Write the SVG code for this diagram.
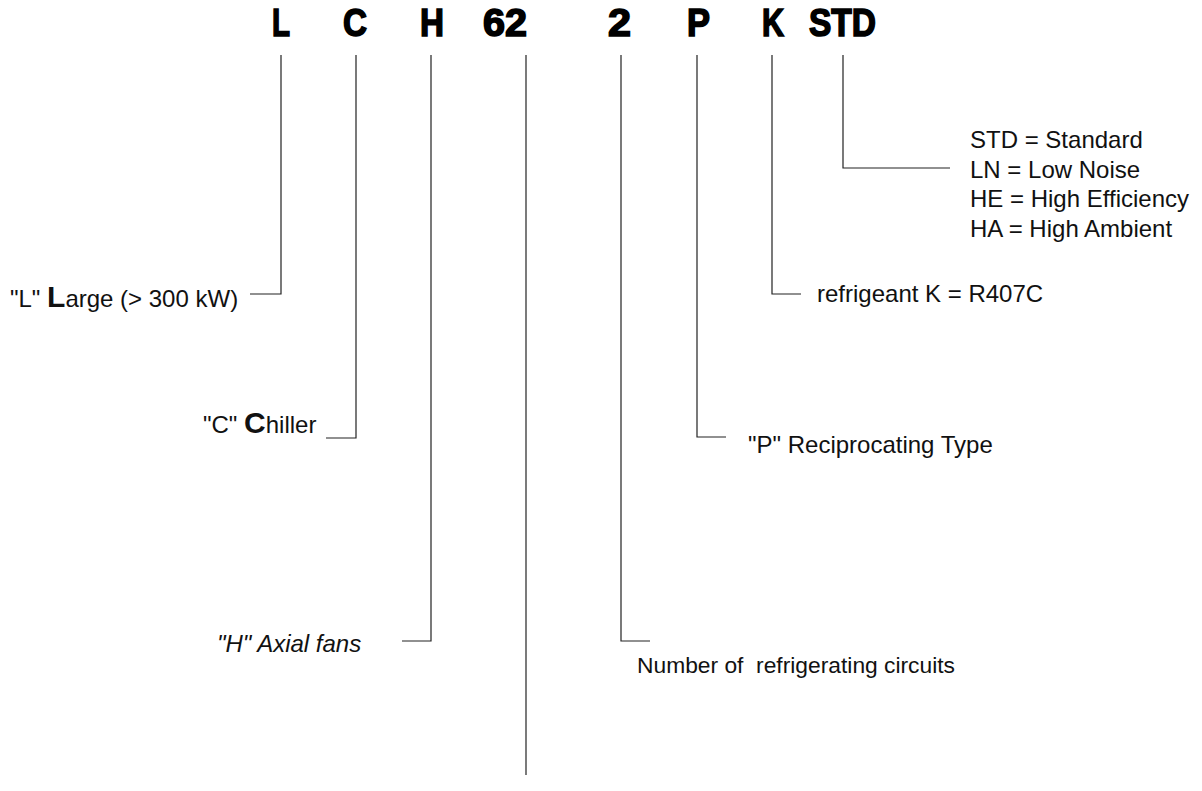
<svg xmlns="http://www.w3.org/2000/svg" width="1202" height="791" viewBox="0 0 1202 791">
<style>
.code{font-family:"Liberation Sans",Arial,sans-serif;font-weight:bold;font-size:38px;fill:#000;stroke:#000;stroke-width:1.6px}
.lbl{font-family:"Liberation Sans",Arial,sans-serif;font-size:24px;fill:#111}
.big{font-weight:bold;font-size:30px}
.it{font-style:italic}
.conn path{fill:none;stroke:#222;stroke-width:1.2}
</style>
<rect width="1202" height="791" fill="#fff"/>
<g id="code">
<text class="code" x="272" y="36" textLength="18" lengthAdjust="spacingAndGlyphs">L</text>
<text class="code" x="343" y="36" textLength="24" lengthAdjust="spacingAndGlyphs">C</text>
<text class="code" x="420" y="36" textLength="24" lengthAdjust="spacingAndGlyphs">H</text>
<text class="code" x="483" y="36" textLength="44" lengthAdjust="spacingAndGlyphs">62</text>
<text class="code" x="608" y="36" textLength="23" lengthAdjust="spacingAndGlyphs">2</text>
<text class="code" x="687" y="36" textLength="23" lengthAdjust="spacingAndGlyphs">P</text>
<text class="code" x="762" y="36" textLength="22" lengthAdjust="spacingAndGlyphs">K</text>
<text class="code" x="809" y="36" textLength="67" lengthAdjust="spacingAndGlyphs">STD</text>
</g>
<g class="conn" id="connectors">
<path d="M281 55V294H250"/>
<path d="M356 55V438H326"/>
<path d="M431 55V641H402"/>
<path d="M526 55V775"/>
<path d="M621 55V641H650"/>
<path d="M697 55V437H726"/>
<path d="M772 55V294H801"/>
<path d="M843 55V168H950"/>
</g>
<g id="node-L"><text class="lbl" x="10" y="307" xml:space="preserve">"L" <tspan class="big">L</tspan>arge (&gt; 300 kW)</text></g>
<g id="node-C"><text class="lbl" x="203" y="433" xml:space="preserve">"C" <tspan class="big">C</tspan>hiller</text></g>
<g id="node-H"><text class="lbl it" x="217" y="652">"H" Axial fans</text></g>
<g id="node-2"><text class="lbl" x="637" y="673" style="font-size:22.8px" xml:space="preserve">Number of  refrigerating circuits</text></g>
<g id="node-P"><text class="lbl" x="748" y="453">"P" Reciprocating Type</text></g>
<g id="node-K"><text class="lbl" x="817" y="302">refrigeant K = R407C</text></g>
<g id="node-STD">
<text class="lbl" x="970" y="148">STD = Standard</text>
<text class="lbl" x="970" y="178">LN = Low Noise</text>
<text class="lbl" x="970" y="207">HE = High Efficiency</text>
<text class="lbl" x="970" y="237">HA = High Ambient</text>
</g>
</svg>
